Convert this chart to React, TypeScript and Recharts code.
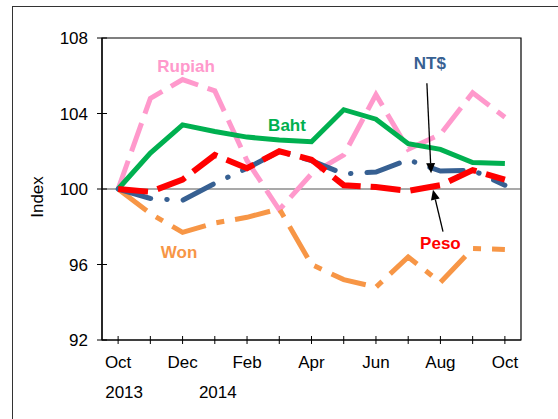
import { LineChart, Line, XAxis, YAxis, ReferenceLine, ReferenceArea, ReferenceDot } from 'recharts';

const months = ['Oct', 'Nov', 'Dec', 'Jan', 'Feb', 'Mar', 'Apr', 'May', 'Jun', 'Jul', 'Aug', 'Sep', 'Oct'];
const years = ['2013', '2013', '2013', '2014', '2014', '2014', '2014', '2014', '2014', '2014', '2014', '2014', '2014'];
const yTicks = [92, 96, 100, 104, 108];

const rupiah = [100, 104.8, 105.8, 105.2, 101.5, 98.9, 100.8, 101.8, 105.0, 102.1, 102.9, 105.1, 103.8];
const baht = [100, 101.9, 103.4, 103.05, 102.75, 102.6, 102.5, 104.2, 103.7, 102.4, 102.1, 101.4, 101.35];
const ntd = [100, 99.5, 99.4, 100.3, 101.1, 102.0, 101.5, 100.8, 100.9, 101.55, 100.95, 101.0, 100.2];
const peso = [100, 99.85, 100.5, 101.8, 101.1, 102.0, 101.55, 100.2, 100.1, 99.9, 100.2, 101.0, 100.5];
const won = [100, 98.7, 97.7, 98.2, 98.5, 98.95, 96.0, 95.2, 94.8, 96.4, 95.05, 96.85, 96.8];

const data = months.map((m, i) => ({
  i,
  month: m,
  rupiah: rupiah[i],
  baht: baht[i],
  ntd: ntd[i],
  peso: peso[i],
  won: won[i],
}));

const FONT = 'Arial, "Liberation Sans", sans-serif';
const PINK = '#FF99CC';
const GREEN = '#00B050';
const BLUE = '#376092';
const RED = '#FF0000';
const ORANGE = '#F79646';

// series labels, placed in data coordinates
const seriesLabels = [
  { text: 'Rupiah', x: 2.11, y: 106.5, color: PINK },
  { text: 'Baht', x: 5.24, y: 103.4, color: GREEN },
  { text: 'NT$', x: 9.67, y: 106.7, color: BLUE },
  { text: 'Won', x: 1.89, y: 96.68, color: ORANGE },
  { text: 'Peso', x: 10.0, y: 97.16, color: RED },
];

const arrows = [
  { from: { x: 9.58, y: 105.6 }, to: { x: 9.71, y: 100.84 } },
  { from: { x: 10.08, y: 97.74 }, to: { x: 9.77, y: 99.96 } },
];

const XTick = (props: any) => {
  const { x, y, payload } = props;
  const i = payload.value as number;
  const showYear = i === 0 || years[i] !== years[i - 1];
  return (
    <g>
      <line x1={x} y1={y - 4} x2={x} y2={y + 4} stroke="#000" strokeWidth={1} />
      {i % 2 === 0 && (
        <text x={x} y={y + 28} textAnchor="middle" fontSize={17} fontFamily={FONT} fill="#000">
          {months[i]}
        </text>
      )}
      {showYear && (
        <text x={x + (i === 0 ? 6 : 3)} y={y + 58} textAnchor="middle" fontSize={17} fontFamily={FONT} fill="#000">
          {years[i]}
        </text>
      )}
    </g>
  );
};

const YTick = (props: any) => {
  const { x, y, payload } = props;
  return (
    <g>
      <line x1={x - 5} y1={y} x2={x + 5} y2={y} stroke="#000" strokeWidth={1} />
      <text x={x - 14} y={y + 6} textAnchor="end" fontSize={17} fontFamily={FONT} fill="#000">
        {payload.value}
      </text>
    </g>
  );
};

const Arrow = (p: any) => {
  const { x1, y1, x2, y2 } = p;
  const ang = Math.atan2(y2 - y1, x2 - x1);
  const len = 10;
  const half = 4.5;
  const bx = x2 - len * Math.cos(ang);
  const by = y2 - len * Math.sin(ang);
  const nx = -Math.sin(ang) * half;
  const ny = Math.cos(ang) * half;
  return (
    <g>
      <line x1={x1} y1={y1} x2={bx} y2={by} stroke="#000" strokeWidth={1.3} />
      <polygon points={`${x2},${y2} ${bx + nx},${by + ny} ${bx - nx},${by - ny}`} fill="#000" />
    </g>
  );
};

export default function App() {
  return (
    <div style={{ position: 'absolute', left: 0, top: 0, width: 558, height: 419, background: '#fff', overflow: 'hidden' }}>
      <div
        style={{
          position: 'absolute',
          left: 12,
          top: 6,
          width: 600,
          height: 500,
          borderLeft: '1px solid #333',
          borderTop: '1px solid #333',
        }}
      />
      <div style={{ position: 'absolute', left: 0, top: 0 }}>
        <LineChart width={558} height={419} data={data} margin={{ top: 38, right: 37, bottom: 0, left: 0 }}>
          <XAxis
            dataKey="i"
            type="number"
            domain={[-0.5, 12.5]}
            ticks={months.map((_, i) => i)}
            interval={0}
            height={79}
            tickSize={0}
            tickMargin={0}
            tickLine={false}
            tick={<XTick />}
            axisLine={{ stroke: '#000', strokeWidth: 1.2 }}
          />
          <YAxis
            type="number"
            domain={[92, 108]}
            ticks={yTicks}
            width={102}
            tickSize={0}
            tickMargin={0}
            tickLine={false}
            tick={<YTick />}
            axisLine={{ stroke: '#000', strokeWidth: 1.2 }}
            label={{
              content: (lp: any) => {
                const vb = lp.viewBox;
                const cx = 37;
                const cy = vb.y + vb.height / 2 + 8;
                return (
                  <text x={cx} y={cy} transform={`rotate(-90 ${cx} ${cy})`} textAnchor="middle" dominantBaseline="central" fontSize={17} fontFamily={FONT} fill="#000">
                    Index
                  </text>
                );
              },
            }}
          />
          <ReferenceArea x1={-0.5} x2={12.5} y1={92} y2={108} fill="none" stroke="#000" strokeWidth={1.2} />
          <ReferenceLine y={100} stroke="#555" strokeWidth={1.2} />
          <Line dataKey="rupiah" stroke={PINK} strokeWidth={5} strokeDasharray="30 10" dot={false} isAnimationActive={false} />
          <Line dataKey="won" stroke={ORANGE} strokeWidth={5} strokeDasharray="36 11 8 11" dot={false} isAnimationActive={false} />
          <Line dataKey="baht" stroke={GREEN} strokeWidth={5} dot={false} isAnimationActive={false} />
          <Line dataKey="ntd" stroke={BLUE} strokeWidth={5} strokeDasharray="34 16 0.5 16" strokeLinecap="round" dot={false} isAnimationActive={false} />
          <Line dataKey="peso" stroke={RED} strokeWidth={6} strokeDasharray="30 10" dot={false} isAnimationActive={false} />
          {arrows.map((a, k) => (
            <ReferenceLine
              key={`arrow-${k}`}
              segment={[a.from, a.to]}
              ifOverflow="visible"
              shape={(p: any) => <Arrow {...p} />}
            />
          ))}
          {seriesLabels.map((l) => (
            <ReferenceDot
              key={l.text}
              x={l.x}
              y={l.y}
              r={0}
              ifOverflow="visible"
              shape={(p: any) => (
                <text x={p.cx} y={p.cy + 6} textAnchor="middle" fontSize={17} fontWeight="bold" fontFamily={FONT} fill={l.color}>
                  {l.text}
                </text>
              )}
            />
          ))}
        </LineChart>
      </div>
    </div>
  );
}
